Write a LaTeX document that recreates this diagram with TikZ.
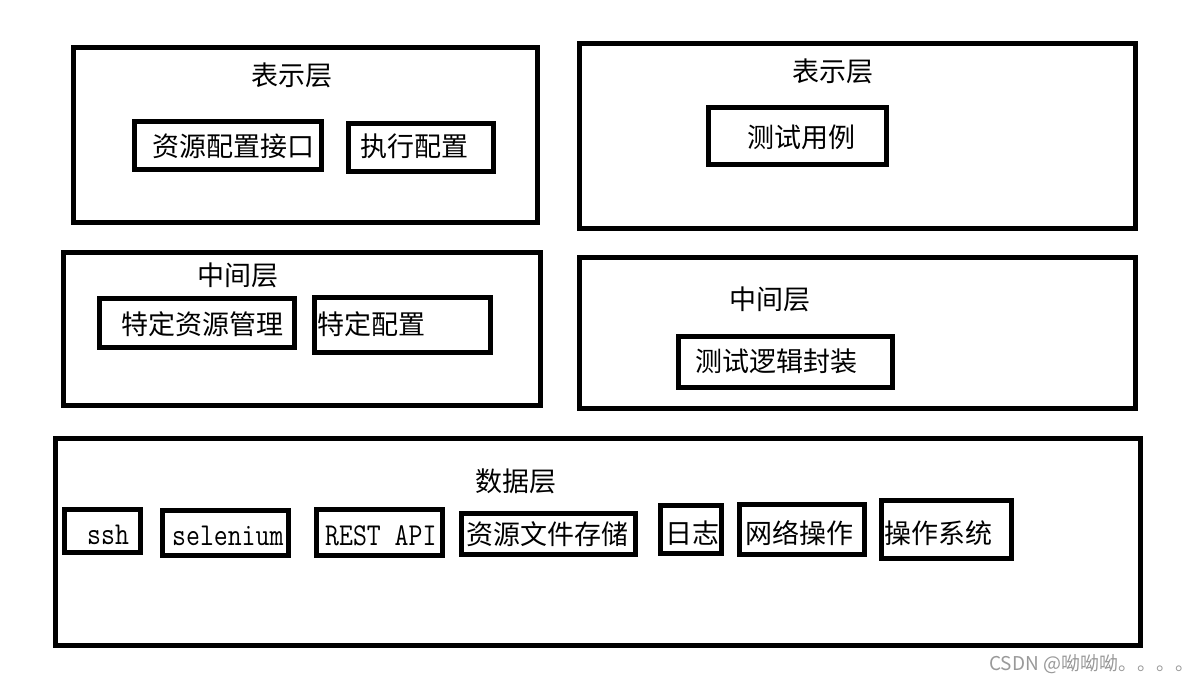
\documentclass[tikz,border=0pt]{standalone}
\usepackage{fontspec}
\newfontfamily\cjk{Noto Sans CJK SC}
\newcommand\tallmono[1]{\scalebox{1}[1.18]{#1}}
\begin{document}
\begin{tikzpicture}[x=1pt,y=-1pt,
  bx/.style={draw=black, line width=4.8pt, inner sep=0, outer sep=0, anchor=north west},
  txt/.style={inner sep=0, anchor=base west, font=\cjk\fontsize{27}{32}\selectfont},
  lat/.style={inner sep=0, anchor=base west, font=\ttfamily\fontsize{27}{32}\selectfont},
  wm/.style={inner sep=0, anchor=west, text=black!40, font=\cjk\fontsize{19}{22}\selectfont}]
\fill[white] (0,0) rectangle (1202,684);
\useasboundingbox (0,0) rectangle (1202,684);
% layer boxes
\node[bx, minimum width=464.2, minimum height=175.2] (A) at (73.4,47.4) {};
\node[bx, minimum width=556.2, minimum height=185.2] (B) at (579.4,43.4) {};
\node[bx, minimum width=477.2, minimum height=153.2] (C) at (63.4,252.4) {};
\node[bx, minimum width=556.2, minimum height=151.2] (D) at (579.4,257.4) {};
\node[bx, minimum width=1085.2, minimum height=207.2] (E) at (55.4,438.4) {};
% inner boxes
\node[bx, minimum width=187.2, minimum height=48.2] (a1) at (134.4,121.4) {};
\node[bx, minimum width=145.2, minimum height=48.2] (a2) at (348.4,123.4) {};
\node[bx, minimum width=178.2, minimum height=57.2] (b1) at (708.4,107.4) {};
\node[bx, minimum width=195.2, minimum height=49.2] (c1) at (99.4,298.4) {};
\node[bx, minimum width=176.2, minimum height=55.2] (c2) at (314.4,297.4) {};
\node[bx, minimum width=214.2, minimum height=51.2] (d1) at (678.4,336.4) {};
\node[bx, minimum width=76.2, minimum height=43.2] (e1) at (64.4,509.4) {};
\node[bx, minimum width=126.2, minimum height=45.2] (e2) at (162.4,510.4) {};
\node[bx, minimum width=126.2, minimum height=46.2] (e3) at (316.4,509.4) {};
\node[bx, minimum width=174.2, minimum height=41.2] (e4) at (461.4,513.4) {};
\node[bx, minimum width=61.2, minimum height=48.2] (e5) at (660.4,505.4) {};
\node[bx, minimum width=125.2, minimum height=50.2] (e6) at (739.4,504.4) {};
\node[bx, minimum width=130.2, minimum height=58.2] (e7) at (881.4,500.4) {};
% texts
\node[txt] (tA) at (251,86) {表示层};
\node[txt] (ta1) at (152,157) {资源配置接口};
\node[txt] (ta2) at (360,157) {执行配置};
\node[txt] (tB) at (792,82) {表示层};
\node[txt] (tb1) at (747,148) {测试用例};
\node[txt] (tC) at (197,286) {中间层};
\node[txt] (tc1) at (121,335) {特定资源管理};
\node[txt] (tc2) at (317,335) {特定配置};
\node[txt] (tD) at (729,310) {中间层};
\node[txt] (td1) at (695,372) {测试逻辑封装};
\node[txt] (tE) at (475,491) {数据层};
\node[lat] (te1) at (87,544) {\tallmono{ssh}};
\node[lat] (te2) at (172,545) {\tallmono{selenium}};
\node[lat] (te3) at (325,545) {\tallmono{REST API}};
\node[txt] (te4) at (466,544) {资源文件存储};
\node[txt] (te5) at (665,543) {日志};
\node[txt] (te6) at (745,543) {网络操作};
\node[txt] (te7) at (884,543) {操作系统};
\node[wm] (w) at (989,664) {CSDN @呦呦呦。。。。};
\end{tikzpicture}
\end{document}
